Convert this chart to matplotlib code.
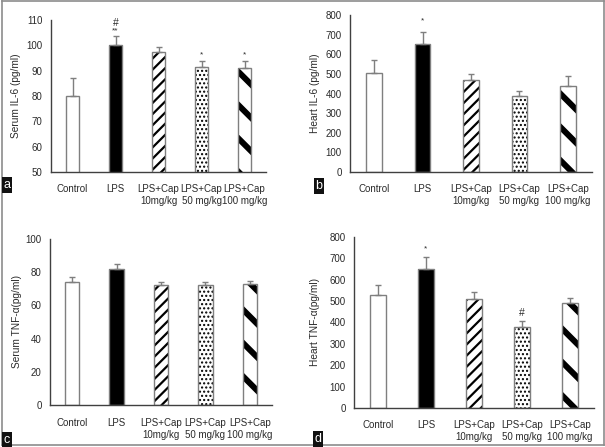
import matplotlib
matplotlib.use("Agg")
import matplotlib.pyplot as plt
from matplotlib.lines import Line2D

plt.rcParams['font.family'] = ['Liberation Sans', 'DejaVu Sans']

categories = ["Control", "LPS", "LPS+Cap\n10mg/kg", "LPS+Cap\n50 mg/kg", "LPS+Cap\n100 mg/kg"]

serum_il6 = [80, 100, 97.5, 91.5, 91]
serum_il6_err = [7, 3.5, 2, 2.5, 3]
heart_il6 = [505, 650, 467, 385, 437]
heart_il6_err = [65, 65, 33, 28, 50]
serum_tnf = [74, 82, 72, 72, 73]
serum_tnf_err = [3, 3, 2, 2, 2]
heart_tnf = [530, 650, 512, 380, 493]
heart_tnf_err = [45, 55, 31, 25, 22]

ann_a = [[], ["**", "#"], [], ["*"], ["*"]]
ann_b = [[], ["*"], [], [], []]
ann_c = [[], [], [], [], []]
ann_d = [[], ["*"], [], ["#"], []]

W, H = 605, 447
fig = plt.figure(figsize=(W / 100, H / 100), dpi=100)

TXT = "#2a2a2a"
EDGE = "#7f7f7f"

styles = [
    dict(facecolor="white", hatch=None, hlw=1.0),
    dict(facecolor="black", hatch=None, hlw=1.0),
    dict(facecolor="white", hatch="///", hlw=1.6),
    dict(facecolor="white", hatch="....", hlw=1.0),
    dict(facecolor="white", hatch="\\", hlw=4.3),
]


def px_axes(left, right, top, bottom):
    return fig.add_axes([left / W, 1 - bottom / H, (right - left) / W, (bottom - top) / H])


def panel(box, vals, errs, ylim, yticks, ylabel, anns, label_x, annstep, letter, lpos):
    ax = px_axes(*box)
    x = list(range(len(categories)))
    for i in x:
        st = styles[i]
        if st['hatch']:
            with plt.rc_context({'hatch.linewidth': st['hlw']}):
                ax.bar(i, vals[i], width=0.32, color=st['facecolor'], edgecolor="black",
                       linewidth=0, hatch=st['hatch'], zorder=2)
        else:
            ax.bar(i, vals[i], width=0.32, color=st['facecolor'], linewidth=0, zorder=2)
        ax.bar(i, vals[i], width=0.32, fill=False, edgecolor=EDGE, linewidth=1.0, zorder=2.5)
    ax.errorbar(x, vals, yerr=[[0] * len(vals), errs], fmt="none", ecolor=EDGE,
                elinewidth=1.0, capsize=2.5, capthick=1.0, zorder=3)
    for i, marks in enumerate(anns):
        top = vals[i] + errs[i]
        for k, m in enumerate(marks):
            fs = 6 if m.startswith("*") else 7.5
            ax.text(i, top + annstep * (0.9 + 1.3 * k), m, ha="center", va="center",
                    fontsize=fs, color=TXT)
    ax.set_xlim(-0.5, len(categories) - 0.5)
    ax.set_ylim(*ylim)
    ax.set_yticks(yticks)
    ax.set_xticks(x)
    ax.set_xticklabels(categories, fontsize=7, color=TXT, linespacing=1.25)
    ax.tick_params(axis="both", length=0, labelsize=7, colors=TXT)
    ax.tick_params(axis="x", pad=9)
    ax.tick_params(axis="y", pad=6)
    for s in ["top", "right"]:
        ax.spines[s].set_visible(False)
    for s in ["left", "bottom"]:
        ax.spines[s].set_color("#404040")
        ax.spines[s].set_linewidth(1.0)
    fig.text(label_x / W, 1 - (box[2] + box[3]) / 2 / H, ylabel, rotation=90,
             ha="center", va="center", fontsize=7.3, color=TXT)
    fig.text(lpos[0] / W, 1 - lpos[1] / H, letter, ha="center", va="center", fontsize=9,
             color="white", bbox=dict(boxstyle="square,pad=0.15", facecolor="#111111",
                                      edgecolor="none"))
    return ax


panel((51, 266, 20, 172), serum_il6, serum_il6_err, (50, 110), range(50, 111, 10),
      "Serum IL-6 (pg/ml)", ann_a, 16, 2.4, "a", (7, 185))
panel((350, 592, 15, 172), heart_il6, heart_il6_err, (0, 800), range(0, 801, 100),
      "Heart IL-6 (pg/ml)", ann_b, 315, 60, "b", (319, 186))
panel((50, 272, 239, 405), serum_tnf, serum_tnf_err, (0, 100), range(0, 101, 20),
      "Serum TNF-α(pg/ml)", ann_c, 17, 3, "c", (7, 440))
panel((354, 594, 237, 408), heart_tnf, heart_tnf_err, (0, 800), range(0, 801, 100),
      "Heart TNF-α(pg/ml)", ann_d, 315, 45, "d", (318, 439))

# outer frame
for (x0, y0, x1, y1) in [(1.5, 0.5, 603.5, 0.5), (1.5, 0.5, 1.5, 444.5),
                         (1.5, 444.5, 603.5, 444.5), (603.5, 0.5, 603.5, 444.5)]:
    fig.add_artist(Line2D([x0 / W, x1 / W], [1 - y0 / H, 1 - y1 / H],
                          color="#8c8c8c", linewidth=1.2, transform=fig.transFigure))

fig.savefig("out.png", dpi=100)
